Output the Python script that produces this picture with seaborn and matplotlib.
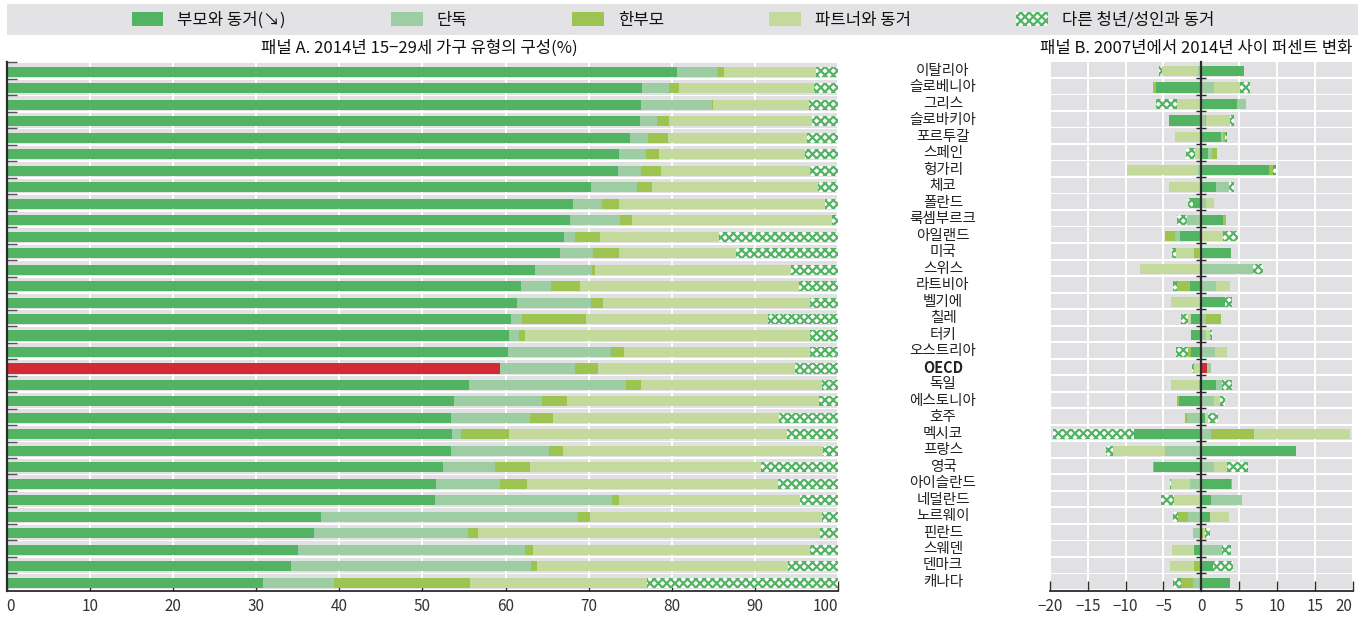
import numpy as np
import pandas as pd
import matplotlib
matplotlib.use("Agg")
import matplotlib.pyplot as plt
import seaborn as sns
from matplotlib.patches import Patch, Rectangle
from matplotlib.transforms import blended_transform_factory

countries = ["이탈리아", "슬로베니아", "그리스", "슬로바키아", "포르투갈", "스페인", "헝가리",
             "체코", "폴란드", "룩셈부르크", "아일랜드", "미국", "스위스", "라트비아", "벨기에",
             "칠레", "터키", "오스트리아", "OECD", "독일", "에스토니아", "호주", "멕시코",
             "프랑스", "영국", "아이슬란드", "네덜란드", "노르웨이", "핀란드", "스웨덴",
             "덴마크", "캐나다"]

categories = ["부모와 동거(↘)", "단독", "한부모", "파트너와 동거", "다른 청년/성인과 동거"]

# Panel A: household composition of 15-29 year-olds, 2014 (%)
a_parents = [80.6, 76.4, 76.3, 76.2, 75.0, 73.6, 73.5, 70.3, 68.1, 67.7, 67.0, 66.5, 63.5,
             61.8, 61.4, 60.6, 60.4, 60.3, 59.3, 55.6, 53.8, 53.4, 53.5, 53.4, 52.5, 51.6,
             51.5, 37.8, 37.0, 35.0, 34.2, 30.8]
a_alone = [4.8, 3.2, 8.5, 2.0, 2.1, 3.3, 2.8, 5.5, 3.5, 6.1, 1.4, 4.0, 6.9, 3.7, 8.9, 1.4,
           1.2, 12.4, 9.1, 18.9, 10.6, 9.5, 1.1, 11.8, 6.2, 7.7, 21.3, 30.9, 18.5, 27.3,
           28.9, 8.6]
a_single_parent = [0.9, 1.3, 0.1, 1.4, 2.4, 1.5, 2.4, 1.8, 2.0, 1.4, 2.9, 3.1, 0.3, 3.4,
                   1.4, 7.7, 0.7, 1.5, 2.7, 1.8, 3.0, 2.8, 5.8, 1.7, 4.2, 3.3, 0.8, 1.4,
                   1.2, 1.0, 0.7, 16.3]
a_partner = [11.0, 16.2, 11.6, 17.2, 16.7, 17.6, 17.9, 20.0, 24.8, 24.0, 14.4, 14.1, 23.6,
             26.4, 24.9, 21.9, 34.3, 22.4, 23.7, 21.7, 30.3, 27.2, 33.4, 31.3, 27.8, 30.2,
             21.8, 28.0, 41.1, 33.3, 30.2, 21.3]
a_other = [2.7, 2.9, 3.5, 3.2, 3.8, 4.0, 3.4, 2.4, 1.6, 0.8, 14.3, 12.3, 5.7, 4.7, 3.4, 8.4,
           3.4, 3.4, 5.2, 2.0, 2.3, 7.1, 6.2, 1.8, 9.3, 7.2, 4.6, 1.9, 2.2, 3.4, 6.0, 23.0]

# Panel B: percentage-point change between 2007 and 2014
b_parents = [5.6, -6.0, 4.7, -4.3, 2.6, 0.9, 8.9, 1.9, -1.1, 2.9, -2.8, 3.9, 0.0, -1.5, 3.1,
             -1.4, -1.4, -1.4, 0.75, 1.9, -3.0, 0.5, -8.9, 12.5, -6.2, 3.9, 1.3, 1.1, 0.0,
             -1.0, 1.5, 3.8]
b_alone = [-0.4, 1.7, 1.2, 0.5, 0.25, 0.5, -0.4, 1.7, 0.6, -1.9, -0.7, -0.3, 6.8, 1.9, 0.0,
           0.6, 0.6, 1.8, 0.5, 0.8, 1.7, -1.9, 1.3, -4.8, 1.7, -1.5, 4.1, -1.8, -1.1, 2.7,
           0.0, -1.1]
b_single_parent = [0.0, -0.4, 0.0, 0.1, 0.3, 0.7, 0.6, 0.0, 0.0, 0.4, -1.3, -0.7, 0.0, -1.7,
                   0.0, 2.0, 0.0, -0.4, 0.0, -0.25, -0.15, -0.3, 5.7, 0.0, -0.15, 0.15, 0.0,
                   -1.3, 0.2, 0.0, -1.0, -1.6]
b_partner = [-4.8, 3.4, -3.2, 3.2, -3.5, -0.8, -9.4, -4.3, 1.1, 0.0, 2.9, -2.4, -8.1, 1.9,
             -4.0, -0.4, 0.5, 1.6, -1.0, -3.7, 0.8, 0.4, 12.6, -6.9, 1.7, -2.5, -3.6, 2.5,
             0.25, -2.9, -3.2, 0.0]
b_other = [-0.45, 1.3, -2.8, 0.45, 0.3, -1.2, 0.35, 0.65, -0.65, -1.3, 2.0, -0.5, 1.3, -0.5,
           0.9, -0.9, 0.25, -1.6, -0.25, 1.3, 0.65, 1.3, -10.7, -0.9, 2.8, -0.15, -1.7,
           -0.65, 0.65, 1.2, 2.7, -1.1]

seg_colors = ["#52b463", "#9dcda3", "#9dc350", "#c4da9c", "white"]
HATCH_GREEN = "#52b463"
OECD_RED = "#d22b33"
BAND = "#e1e1e3"
INK = "#2b2b2b"
BAR_H = 0.61

sns.set_theme(style="white")
plt.rcParams["font.family"] = ["Noto Sans CJK KR", "DejaVu Sans"]
plt.rcParams["hatch.linewidth"] = 1.6
plt.rcParams["hatch.color"] = HATCH_GREEN

fig = plt.figure(figsize=(13.65, 6.19), dpi=100)
ax_a = fig.add_axes([0.0049, 0.0452, 0.6092, 0.854])
ax_b = fig.add_axes([0.7692, 0.0452, 0.2218, 0.854])

n = len(countries)


def draw_stack(ax, layers):
    data = np.array(layers, dtype=float)
    pos_ends = np.clip(data, 0, None).cumsum(axis=0)
    neg_ends = np.clip(data, None, 0).cumsum(axis=0)
    for ends in (pos_ends, neg_ends):
        if not np.any(ends):
            continue
        # widest extent first, each following layer overdraws the inner part
        for k in range(len(layers) - 1, -1, -1):
            df = pd.DataFrame({"country": countries, "value": ends[k]})
            kw = dict(data=df, x="value", y="country", orient="h", ax=ax, width=BAR_H,
                      saturation=1, errorbar=None, linewidth=0, zorder=2)
            if k == len(layers) - 1:
                sns.barplot(**kw, color="white", edgecolor=HATCH_GREEN, hatch="xxxx")
            elif k == 0:
                pal = {c: (OECD_RED if c == "OECD" else seg_colors[0]) for c in countries}
                sns.barplot(**kw, hue="country", palette=pal, legend=False)
            else:
                sns.barplot(**kw, color=seg_colors[k])


def style_panel(ax, xlim, xticks):
    for i in range(n):
        ax.axhspan(i - 0.52, i + 0.38, color=BAND, lw=0, zorder=0.2)
    for t in xticks:
        ax.axvline(t, color="white", lw=1.4, zorder=0.5)
    ax.set_xlim(*xlim)
    ax.set_ylim(n - 0.5, -0.52)
    ax.set_xticks(xticks)
    ax.set_xlabel("")
    ax.set_ylabel("")
    ax.tick_params(axis="x", direction="in", length=7, width=1, color=INK,
                   labelsize=11, labelcolor="#333333", pad=5, bottom=True)
    ax.spines["top"].set_visible(False)
    ax.spines["right"].set_visible(False)
    ax.spines["bottom"].set_color(INK)
    ax.spines["bottom"].set_linewidth(1.3)


draw_stack(ax_a, [a_parents, a_alone, a_single_parent, a_partner, a_other])
draw_stack(ax_b, [b_parents, b_alone, b_single_parent, b_partner, b_other])

style_panel(ax_a, (0, 100), np.arange(0, 101, 10))
style_panel(ax_b, (-20, 20), np.arange(-20, 21, 5))

boundaries = np.arange(n + 1) - 0.57
# Panel A: left spine with row separators
ax_a.spines["left"].set_color(INK)
ax_a.spines["left"].set_linewidth(1.6)
ax_a.set_yticks(boundaries[:-1])
ax_a.set_yticklabels([])
ax_a.tick_params(axis="y", direction="in", length=7, width=1, color="#555555", left=True)

# Panel B: zero line carrying the row separators
ax_b.spines["left"].set_position(("data", 0))
ax_b.spines["left"].set_color(INK)
ax_b.spines["left"].set_linewidth(1.6)
ax_b.set_yticks(boundaries[1:-1])
ax_b.set_yticklabels([])
ax_b.tick_params(axis="y", direction="inout", length=7, width=1, color=INK, left=True)

# End tick labels kept inside the axis span
lbls = ax_a.get_xticklabels()
lbls[0].set_horizontalalignment("left")
lbls[-1].set_horizontalalignment("right")
lbls_b = ax_b.get_xticklabels()
lbls_b[-1].set_horizontalalignment("right")
lbls_b[0].set_horizontalalignment("center")

# Country names between the panels
tr = blended_transform_factory(fig.transFigure, ax_a.transData)
for i, c in enumerate(countries):
    ax_a.text(943 / 1365, i - 0.05, c, transform=tr, ha="center", va="center",
              fontsize=10.5, color="#222222",
              fontweight="bold" if c == "OECD" else "normal", clip_on=False)

# Panel titles
fig.text(419 / 1365, 1 - 48 / 619, "패널 A. 2014년 15−29세 가구 유형의 구성(%)",
         ha="center", va="center", fontsize=12, color="#111111")
fig.text(1352 / 1365, 1 - 48 / 619, "패널 B. 2007년에서 2014년 사이 퍼센트 변화",
         ha="right", va="center", fontsize=12, color="#111111")

# Legend strip
fig.patches.append(Rectangle((7 / 1365, 1 - 35 / 619), 1351 / 1365, 31 / 619,
                             transform=fig.transFigure, facecolor="#e3e3e5",
                             edgecolor="none", zorder=0))
handles = []
for k, lab in enumerate(categories):
    if k == len(categories) - 1:
        handles.append(Patch(facecolor="white", edgecolor=HATCH_GREEN, hatch="xxxx",
                             linewidth=0, label=lab))
    else:
        handles.append(Patch(facecolor=seg_colors[k], linewidth=0, label=lab))
fig.legend(handles=handles, loc="center", bbox_to_anchor=(673 / 1365, 1 - 20 / 619),
           ncol=5, frameon=False, fontsize=12, handlelength=1.9, handleheight=0.95,
           handletextpad=0.85, columnspacing=6.3, labelcolor="#111111")

fig.savefig("out.png", dpi=100)
